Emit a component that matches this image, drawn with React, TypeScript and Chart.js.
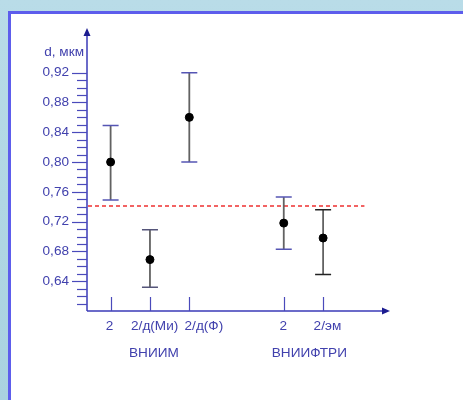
import React, { useEffect, useRef } from 'react';
import { Chart, registerables } from 'chart.js';

Chart.register(...registerables);

// ---- data ----
const categories = ['2', '2/д(Ми)', '2/д(Ф)', '2', '2/эм'];
const positions = [1, 2, 3, 5.4, 6.4];
const labelPositions = [0.97, 2.12, 3.37, 5.39, 6.51];
const means = [0.8, 0.669, 0.86, 0.718, 0.698];
const upperValues = [0.849, 0.709, 0.92, 0.753, 0.736];
const lowerValues = [0.749, 0.632, 0.8, 0.683, 0.649];
const groupLabels = ['ВНИИМ', 'ВНИИФТРИ'];
const groupCenters = [2.1, 6.05];
const referenceValue = 0.741;
const referenceEnd = 7.45;
const yTickLabels = [0.64, 0.68, 0.72, 0.76, 0.8, 0.84, 0.88, 0.92];
const yMinorFrom = 61; // hundredths
const yMinorTo = 92;
const yTitle = 'd, мкм';

const capColors = ['#5555b4', '#55557a', '#5555b4', '#5555b4', '#222222'];
const AXIS = '#3b3bb8';
const TEXT = '#4141ad';
const FONT = '"Liberation Sans", Arial, sans-serif';
const FS = 13.6;

const decorPlugin = {
  id: 'decor',
  beforeDatasetsDraw(chart: any) {
    const { ctx, chartArea, scales } = chart;
    const xs = scales.x;
    const ys = scales.y;
    ctx.save();
    // axes
    ctx.strokeStyle = AXIS;
    ctx.lineWidth = 1.5;
    ctx.beginPath();
    ctx.moveTo(chartArea.left, chartArea.bottom);
    ctx.lineTo(chartArea.left, chartArea.top + 6);
    ctx.moveTo(chartArea.left, chartArea.bottom);
    ctx.lineTo(chartArea.right - 6, chartArea.bottom);
    ctx.stroke();
    // arrowheads
    ctx.fillStyle = '#1c1c90';
    ctx.beginPath();
    ctx.moveTo(chartArea.left, chartArea.top);
    ctx.lineTo(chartArea.left - 3.5, chartArea.top + 8);
    ctx.lineTo(chartArea.left + 3.5, chartArea.top + 8);
    ctx.closePath();
    ctx.fill();
    ctx.beginPath();
    ctx.moveTo(chartArea.right, chartArea.bottom);
    ctx.lineTo(chartArea.right - 8, chartArea.bottom - 3.5);
    ctx.lineTo(chartArea.right - 8, chartArea.bottom + 3.5);
    ctx.closePath();
    ctx.fill();
    // y ticks
    ctx.strokeStyle = '#4a4abb';
    ctx.lineWidth = 1.2;
    for (let h = yMinorFrom; h <= yMinorTo; h++) {
      const v = h / 100;
      const y = Math.round(ys.getPixelForValue(v)) + 0.5;
      const major = h % 4 === 0;
      ctx.beginPath();
      ctx.moveTo(chartArea.left - (major ? 15 : 10), y);
      ctx.lineTo(chartArea.left, y);
      ctx.stroke();
    }
    // x ticks
    positions.forEach((p) => {
      const x = Math.round(xs.getPixelForValue(p)) + 0.5;
      ctx.beginPath();
      ctx.moveTo(x, chartArea.bottom);
      ctx.lineTo(x, chartArea.bottom - 14);
      ctx.stroke();
    });
    // reference line
    ctx.strokeStyle = '#ee3030';
    ctx.lineWidth = 1.5;
    ctx.setLineDash([4, 3]);
    const ry = ys.getPixelForValue(referenceValue);
    ctx.beginPath();
    ctx.moveTo(chartArea.left + 1, ry);
    ctx.lineTo(xs.getPixelForValue(referenceEnd), ry);
    ctx.stroke();
    ctx.setLineDash([]);
    // error bars
    positions.forEach((p, i) => {
      const x = xs.getPixelForValue(p);
      const yu = ys.getPixelForValue(upperValues[i]);
      const yl = ys.getPixelForValue(lowerValues[i]);
      ctx.strokeStyle = '#626262';
      ctx.lineWidth = 1.8;
      ctx.beginPath();
      ctx.moveTo(x, yu);
      ctx.lineTo(x, yl);
      ctx.stroke();
      ctx.strokeStyle = capColors[i];
      ctx.lineWidth = 1.5;
      ctx.beginPath();
      ctx.moveTo(x - 8, yu);
      ctx.lineTo(x + 8, yu);
      ctx.moveTo(x - 8, yl);
      ctx.lineTo(x + 8, yl);
      ctx.stroke();
    });
    // y title
    ctx.fillStyle = TEXT;
    ctx.font = `${FS}px ${FONT}`;
    ctx.textAlign = 'right';
    ctx.textBaseline = 'middle';
    ctx.fillText(yTitle, chartArea.left - 3, ys.getPixelForValue(0.948));
    // group labels
    ctx.textAlign = 'center';
    groupLabels.forEach((g, i) => {
      ctx.fillText(g, xs.getPixelForValue(groupCenters[i]), chartArea.bottom + 42);
    });
    ctx.restore();
  },
};

export default function App() {
  const ref = useRef<HTMLCanvasElement>(null);
  useEffect(() => {
    const canvas = ref.current;
    if (!canvas) return;
    const chart = new Chart(canvas, {
      type: 'scatter',
      data: {
        datasets: [
          {
            data: positions.map((p, i) => ({ x: p, y: means[i] })),
            backgroundColor: '#000000',
            borderColor: '#000000',
            pointRadius: 4,
            pointHoverRadius: 4,
          },
        ],
      },
      options: {
        animation: false,
        responsive: false,
        events: [],
        layout: { padding: { left: 0, top: 28, right: 73, bottom: 0 } },
        plugins: { legend: { display: false }, tooltip: { enabled: false } },
        scales: {
          x: {
            type: 'linear',
            min: 0.4,
            max: 8.1,
            border: { display: false },
            grid: { display: false, drawTicks: false },
            afterBuildTicks: (scale: any) => {
              scale.ticks = labelPositions.map((v) => ({ value: v }));
            },
            afterFit: (scale: any) => {
              scale.height = 89;
            },
            ticks: {
              autoSkip: false,
              maxRotation: 0,
              padding: 7,
              color: TEXT,
              font: { family: FONT, size: FS },
              callback: (_v: any, idx: number) => categories[idx],
            },
          },
          y: {
            type: 'linear',
            min: 0.6,
            max: 0.98,
            border: { display: false },
            grid: { display: false, drawTicks: false },
            afterBuildTicks: (scale: any) => {
              scale.ticks = yTickLabels.map((v) => ({ value: v }));
            },
            afterFit: (scale: any) => {
              scale.width = 87;
            },
            ticks: {
              padding: 18,
              color: TEXT,
              font: { family: FONT, size: FS },
              callback: (v: any) => Number(v).toFixed(2).replace('.', ','),
            },
          },
        },
      },
      plugins: [decorPlugin],
    });
    return () => chart.destroy();
  }, []);

  return (
    <div
      style={{
        position: 'fixed',
        left: 0,
        top: 0,
        width: 463,
        height: 400,
        overflow: 'hidden',
        background: 'linear-gradient(180deg, #b9dce8 0%, #a9d2e0 100%)',
      }}
    >
      <div
        style={{
          position: 'absolute',
          left: 8,
          top: 11,
          width: 480,
          height: 420,
          background: '#ffffff',
          borderLeft: '3px solid #5d5dec',
          borderTop: '3px solid #5d5dec',
          boxSizing: 'border-box',
        }}
      />
      <canvas
        ref={ref}
        width={463}
        height={400}
        style={{ position: 'absolute', left: 0, top: 0, width: 463, height: 400 }}
      />
    </div>
  );
}
